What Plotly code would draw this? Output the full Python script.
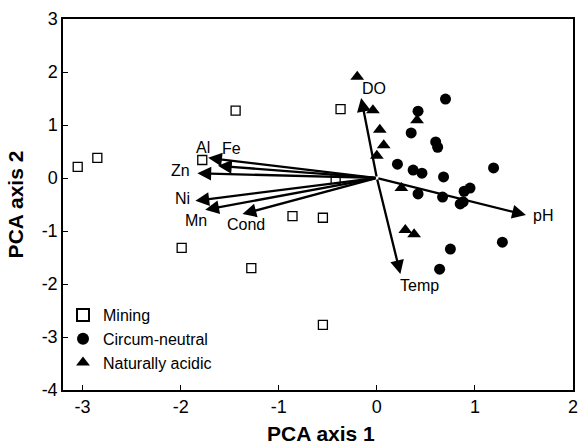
import plotly.graph_objects as go

# Site scores
mining_x = [-3.05, -2.85, -1.44, -1.78, -0.37, -0.86, -0.55, -1.99, -1.28, -0.55, -0.42]
mining_y = [0.21, 0.38, 1.27, 0.34, 1.30, -0.72, -0.75, -1.32, -1.70, -2.77, -0.02]

neutral_x = [0.70, 0.42, 0.35, 0.60, 0.62, 0.21, 0.37, 0.46, 0.68, 1.19, 0.42, 0.67, 0.89, 0.95, 0.85, 0.88, 1.28, 0.75, 0.64]
neutral_y = [1.49, 1.26, 0.85, 0.68, 0.58, 0.26, 0.15, 0.09, 0.02, 0.19, -0.30, -0.36, -0.25, -0.19, -0.49, -0.45, -1.21, -1.34, -1.72]

acidic_x = [-0.20, -0.04, 0.03, 0.07, 0.00, 0.41, 0.25, 0.29, 0.38]
acidic_y = [1.91, 1.28, 0.91, 0.62, 0.42, 1.09, -0.19, -0.98, -1.06]

# Environmental vectors
vec_names = ["DO", "Temp", "pH", "Al", "Fe", "Zn", "Ni", "Mn", "Cond"]
vec_x = [-0.16, 0.24, 1.52, -1.72, -1.62, -1.83, -1.85, -1.75, -1.37]
vec_y = [1.51, -1.81, -0.70, 0.38, 0.23, 0.09, -0.43, -0.60, -0.68]
lab_x = [-0.03, 0.43, 1.57, -1.77, -1.48, -2.0, -1.98, -1.84, -1.33]
lab_y = [1.68, -2.03, -0.70, 0.58, 0.55, 0.14, -0.38, -0.80, -0.88]
lab_anchor = ["center", "center", "left", "center", "center", "center", "center", "center", "center"]

x_ticks = [-3, -2, -1, 0, 1, 2]
x_ticklabels = ["-3", "-2", "-1", "0", "1", "2"]
y_ticks = [-4, -3, -2, -1, 0, 1, 2, 3]
y_ticklabels = ["-4", "-3", "-2", "-1", "0", "1", "2", "3"]

x_title = "PCA axis 1"
y_title = "PCA axis 2"

FONT = "Liberation Sans, Arial, sans-serif"

fig = go.Figure()
fig.add_trace(go.Scatter(x=mining_x, y=mining_y, mode="markers", name="Mining",
                         marker=dict(symbol="square-open", size=9, color="black", line=dict(width=1.3))))
fig.add_trace(go.Scatter(x=neutral_x, y=neutral_y, mode="markers", name="Circum-neutral",
                         marker=dict(symbol="circle", size=11, color="black")))
fig.add_trace(go.Scatter(x=acidic_x, y=acidic_y, mode="markers", name="Naturally acidic",
                         marker=dict(symbol="triangle-up", size=12, color="black")))

for nm, vx, vy, lx, ly, an in zip(vec_names, vec_x, vec_y, lab_x, lab_y, lab_anchor):
    fig.add_annotation(x=vx, y=vy, ax=0, ay=0, xref="x", yref="y", axref="x", ayref="y",
                       text="", showarrow=True, arrowhead=2, arrowsize=1.2, arrowwidth=2.3,
                       arrowcolor="black", standoff=0)
    fig.add_annotation(x=lx, y=ly, xref="x", yref="y", text=nm, showarrow=False,
                       xanchor=an, font=dict(size=16, color="black", family=FONT))

# x-axis title placed as a paper annotation so it sits tight at the bottom like the original
fig.add_annotation(x=0.505, y=-0.118, xref="paper", yref="paper", text="<b>" + x_title + "</b>",
                   showarrow=False, xanchor="center", yanchor="middle",
                   font=dict(size=21, color="black", family=FONT), borderpad=0)

axis_common = dict(showline=True, linecolor="black", linewidth=1.5, mirror=True,
                   ticks="inside", ticklen=5, tickcolor="black", showgrid=False, zeroline=False,
                   tickfont=dict(size=18, color="black", family=FONT))

fig.update_layout(
    width=585, height=445,
    margin=dict(l=63, r=7, t=19, b=55),
    plot_bgcolor="white", paper_bgcolor="white",
    showlegend=True,
    legend=dict(x=0.0, y=0.248, xanchor="left", yanchor="top", bgcolor="rgba(0,0,0,0)",
                font=dict(size=16, color="black", family=FONT),
                itemsizing="constant", tracegroupgap=0),
    xaxis=dict(range=[-3.2, 2], tickvals=x_ticks, ticktext=x_ticklabels, **axis_common),
    yaxis=dict(range=[-4, 3], tickvals=y_ticks, ticktext=y_ticklabels,
               title=dict(text="<b>" + y_title + "</b>", standoff=12,
                          font=dict(size=21, color="black", family=FONT)),
               **axis_common),
)

fig.write_html("out.html", config={"displayModeBar": False},
               post_script="document.body.style.margin='0';document.body.style.overflow='hidden';")
